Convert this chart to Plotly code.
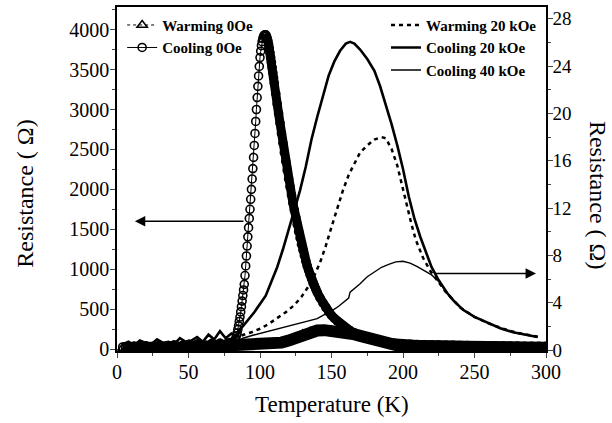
import plotly.graph_objects as go

# ---------------- data ----------------
# Cooling 0 Oe (left axis, Ohm): low-T noise, steep rise, decay
T_c0_low = [4, 6, 8, 10, 12, 14, 16, 18, 20, 22, 24, 26, 28, 30, 32, 34, 36, 38, 40, 42,
            44, 46, 48, 50, 52, 54, 56, 58, 60, 62, 64, 66, 68, 70, 72, 74, 76, 78, 80]
R_c0_low = [25, 10, 30, 15, 35, 20, 10, 30, 40, 15, 25, 35, 20, 45, 30, 15, 40, 25, 50, 30,
            20, 45, 35, 55, 25, 40, 60, 30, 50, 45, 35, 65, 40, 55, 70, 45, 60, 75, 85]
T_c0_rise = [82, 82.5, 83, 83.5, 84, 84.5, 85, 85.5, 86, 86.5, 87, 87.5, 88, 88.5, 89, 89.5,
             90, 90.5, 91, 91.5, 92, 92.5, 93, 93.5, 94, 94.5, 95, 95.5, 96, 96.5, 97, 97.5,
             98, 98.5, 99, 99.5, 100, 100.5, 101, 101.5, 102, 102.5, 103, 103.5, 104]
R_c0_rise = [80, 105, 130, 165, 200, 245, 290, 345, 400, 465, 530, 600, 670, 740, 810, 920,
             1040, 1165, 1290, 1405, 1520, 1635, 1750, 1875, 2000, 2130, 2260, 2400, 2550, 2700, 2850, 3000,
             3150, 3290, 3420, 3540, 3650, 3730, 3800, 3850, 3890, 3915, 3930, 3937, 3935]
T_c0_dec = [104.5, 105, 105.5, 106, 106.5, 107, 107.5, 108, 108.5, 109, 109.5, 110, 111, 112, 113,
            114, 115, 116, 117, 118, 119, 120, 121, 122, 123, 124, 125, 126, 127, 128, 129, 130,
            131, 132, 133, 134, 135, 136, 137, 138, 139, 140, 142, 144, 146, 148, 150, 152, 154,
            156, 158, 160, 163, 166, 170, 175, 180, 185, 190, 195, 200, 205, 210, 215, 220, 225,
            230, 235, 240, 245, 250, 255, 260, 265, 270, 275, 280, 285, 290, 295, 300]
R_c0_dec = [3920, 3895, 3860, 3815, 3765, 3710, 3650, 3590, 3525, 3460, 3395, 3330, 3200, 3070, 2950,
            2830, 2700, 2580, 2460, 2350, 2240, 2130, 2030, 1930, 1830, 1740, 1650, 1560, 1470, 1390, 1310, 1240,
            1170, 1100, 1040, 985, 930, 880, 830, 790, 750, 710, 640, 575, 520, 465, 420, 385, 350,
            320, 290, 262, 230, 200, 168, 135, 108, 88, 76, 68, 62, 58, 55, 52, 50, 48,
            46, 45, 43, 42, 41, 40, 39, 38, 37, 37, 36, 35, 35, 34, 34]

# Warming 0 Oe (left axis, Ohm)
T_w0 = [4, 10, 16, 22, 28, 34, 40, 46, 52, 58, 64, 70, 76, 82, 88, 94,
        100, 105, 110, 115, 120, 125, 130, 135, 140, 145, 150, 155, 160, 165, 170, 175, 180, 185, 190, 195, 200,
        210, 220, 230, 240, 250, 260, 270, 280, 290, 300]
R_w0 = [12, 18, 10, 15, 20, 12, 18, 14, 20, 16, 22, 18, 24, 26, 32, 38,
        44, 50, 62, 80, 105, 145, 185, 215, 232, 236, 232, 220, 205, 188, 165, 135, 105, 80, 62, 50, 42,
        33, 27, 23, 20, 18, 16, 15, 14, 13, 12]

# Warming 20 kOe (right axis, Ohm)
T_w20 = [4, 12, 20, 28, 36, 44, 52, 60, 68, 76, 84, 87, 90, 94, 100, 106, 112, 118, 124, 129,
         134, 138, 142, 146, 150, 154, 158, 162, 166, 170, 175, 180, 185, 188, 192, 196, 200, 203,
         206, 209, 214, 219, 224, 230, 240, 250, 260, 270, 280, 290, 295]
R_w20 = [0.4, 0.5, 0.4, 0.5, 0.5, 0.6, 0.5, 0.6, 0.7, 0.8, 1.1, 1.25, 1.35, 1.5, 1.8, 2.2, 2.7, 3.2, 3.8, 4.5,
         5.4, 6.3, 7.4, 8.8, 10.4, 12.0, 13.5, 14.8, 15.8, 16.7, 17.3, 17.8, 18.0, 17.9, 17.0, 15.6, 13.6, 12.0,
         10.6, 9.3, 7.8, 6.7, 5.9, 4.9, 3.6, 2.8, 2.25, 1.8, 1.45, 1.2, 1.1]

# Cooling 20 kOe (right axis, Ohm)
T_c20 = [4, 8, 12, 16, 20, 24, 28, 32, 36, 40, 44, 48, 52, 56, 60, 64, 68, 72, 76, 80, 84,
         86, 88, 92, 96, 100, 104, 108, 112, 116, 120, 124, 128, 132, 136, 140, 144, 148, 152, 156, 160,
         163, 166, 170, 175, 180, 184, 188, 192, 196, 200, 204, 208, 212, 216, 220, 225, 231, 236, 242, 250,
         259, 268, 277, 285, 294]
R_c20 = [0.5, 0.7, 0.4, 0.8, 0.6, 0.5, 0.9, 0.6, 0.7, 0.5, 1.0, 0.7, 0.8, 1.1, 0.7, 1.3, 0.9, 1.6, 1.0, 1.4, 1.2,
         1.8, 2.0, 2.6, 3.2, 3.9, 4.6, 5.8, 7.0, 8.5, 10.2, 11.8, 13.5, 15.5, 17.8, 19.7, 21.5, 23.2, 24.4, 25.3, 25.9,
         26.05, 25.9, 25.4, 24.6, 23.6, 22.3, 20.8, 19.1, 17.3, 15.3, 13.0, 11.1, 9.6, 8.3, 7.0, 5.9, 4.8, 4.1, 3.4, 2.8,
         2.3, 1.85, 1.5, 1.3, 1.1]

# Cooling 40 kOe (right axis, Ohm)
T_c40 = [4, 12, 20, 28, 36, 44, 52, 60, 68, 76, 82, 85, 88, 95, 100, 105, 110, 117, 125, 130,
         135, 140, 145, 150, 155, 160, 162, 163, 165, 170, 175, 180, 185, 190, 195, 200, 205, 210,
         215, 220, 225, 231, 236, 242, 250, 259, 268, 277, 285, 294]
R_c40 = [0.4, 0.5, 0.4, 0.5, 0.4, 0.5, 0.5, 0.6, 0.5, 0.6, 0.7, 0.8, 1.0, 1.25, 1.4, 1.55, 1.7, 1.95, 2.2, 2.35,
         2.5, 2.65, 3.0, 3.3, 3.7, 4.2, 4.4, 4.9, 5.1, 5.6, 6.2, 6.6, 7.0, 7.25, 7.45, 7.5, 7.35, 7.05,
         6.7, 6.35, 5.8, 4.8, 4.1, 3.4, 2.8, 2.3, 1.85, 1.5, 1.3, 1.1]

# axis ticks / labels
x_ticks = [0, 50, 100, 150, 200, 250, 300]
yl_ticks = [0, 500, 1000, 1500, 2000, 2500, 3000, 3500, 4000]
yr_ticks = [0, 4, 8, 12, 16, 20, 24, 28]

# ---------------- figure ----------------
FONT = "Liberation Serif"
T_c0 = T_c0_low + T_c0_rise + T_c0_dec
R_c0 = R_c0_low + R_c0_rise + R_c0_dec
R_c0_band = [r if (t <= 82 or t >= 104) else None for t, r in zip(T_c0, R_c0)]

fig = go.Figure()

# dense bands (the overlapping markers of the measured zero-field data)
fig.add_trace(go.Scatter(x=T_w0, y=R_w0, mode="lines", showlegend=False, hoverinfo="skip",
                         line=dict(color="black", width=12), yaxis="y"))
fig.add_trace(go.Scatter(x=T_c0, y=R_c0_band, mode="lines", showlegend=False, hoverinfo="skip",
                         connectgaps=False, line=dict(color="black", width=9), yaxis="y"))

fig.add_trace(go.Scatter(x=T_w0, y=R_w0, mode="lines+markers", name="Warming 0Oe",
                         legend="legend", legendgroup="a",
                         line=dict(color="black", width=1, dash="dot"),
                         marker=dict(symbol="triangle-up-open", size=9, color="black",
                                     line=dict(width=1.5, color="black")), yaxis="y"))
fig.add_trace(go.Scatter(x=T_c0, y=R_c0, mode="lines+markers", name="Cooling 0Oe",
                         legend="legend", legendgroup="b",
                         line=dict(color="black", width=1),
                         marker=dict(symbol="circle-open", size=8, color="black",
                                     line=dict(width=1.6, color="black")), yaxis="y"))

fig.add_trace(go.Scatter(x=T_w20, y=R_w20, mode="lines", name="Warming 20 kOe",
                         legend="legend2", legendgroup="c",
                         line=dict(color="black", width=2.5, dash="4px,4px"), yaxis="y2"))
fig.add_trace(go.Scatter(x=T_c20, y=R_c20, mode="lines", name="Cooling 20 kOe",
                         legend="legend2", legendgroup="d",
                         line=dict(color="black", width=2.6), yaxis="y2"))
fig.add_trace(go.Scatter(x=T_c40, y=R_c40, mode="lines", name="Cooling 40 kOe",
                         legend="legend2", legendgroup="e",
                         line=dict(color="black", width=1.4), yaxis="y2"))

tickfont = dict(family=FONT, size=20, color="black")
tickfont_r = dict(family=FONT, size=19, color="black")
legfont = dict(family=FONT, size=15, color="black", weight="bold")

fig.update_layout(
    width=612, height=423,
    margin=dict(l=117, r=66, t=5, b=72),
    paper_bgcolor="white", plot_bgcolor="white",
    font=dict(family=FONT, color="black"),
    xaxis=dict(range=[0, 300], tickvals=x_ticks, ticks="outside", ticklen=5, tickwidth=1.3,
               minor=dict(dtick=25, ticks="outside", ticklen=3, tickwidth=1.2),
               showline=True, linewidth=1.5, linecolor="black", mirror=True,
               showgrid=False, zeroline=False, tickfont=tickfont, ticklabelstandoff=-3),
    xaxis2=dict(range=[0, 300], overlaying="x", side="top", anchor="y", dtick=25,
                ticks="inside", ticklen=6, tickwidth=1.2, showticklabels=False,
                showline=False, showgrid=False, zeroline=False),
    yaxis=dict(range=[-25, 4284], tickvals=yl_ticks, ticks="outside", ticklen=5, tickwidth=1.3,
               minor=dict(dtick=250, ticks="outside", ticklen=3, tickwidth=1.2),
               showline=True, linewidth=1.5, linecolor="black",
               showgrid=False, zeroline=False, tickfont=tickfont, ticklabelstandoff=-3),
    yaxis2=dict(range=[-0.08, 29.0], tickvals=yr_ticks, overlaying="y", side="right",
                ticks="outside", ticklen=5, tickwidth=1.3,
                minor=dict(dtick=2, ticks="outside", ticklen=3, tickwidth=1.2),
                showline=True, linewidth=1.5, linecolor="black",
                showgrid=False, zeroline=False, tickfont=tickfont_r, ticklabelstandoff=-4),
    legend=dict(x=0.012, y=0.995, xanchor="left", yanchor="top", bgcolor="rgba(0,0,0,0)",
                font=legfont, traceorder="grouped", tracegroupgap=0, itemwidth=30),
    legend2=dict(x=0.627, y=0.995, xanchor="left", yanchor="top", bgcolor="rgba(0,0,0,0)",
                 font=legfont, traceorder="grouped", tracegroupgap=0, itemwidth=30),
    showlegend=True,
)

# axis titles
fig.add_annotation(text="Temperature (K)", xref="paper", yref="paper", x=0.5, y=-0.156,
                   showarrow=False, font=dict(family=FONT, size=23, color="black"),
                   xanchor="center", yanchor="middle")
fig.add_annotation(text="Resistance ( \u03a9)", xref="paper", yref="paper", x=-0.2145, y=0.457,
                   textangle=-90, showarrow=False, font=dict(family=FONT, size=24, color="black"),
                   xanchor="center", yanchor="middle")
fig.add_annotation(text="Resistance ( \u03a9)", xref="paper", yref="paper", x=1.121, y=0.454,
                   textangle=90, showarrow=False, font=dict(family=FONT, size=24, color="black"),
                   xanchor="center", yanchor="middle")

# arrows indicating which axis each set belongs to
fig.add_annotation(x=12.5, y=1600, ax=89.5, ay=1600, xref="x", yref="y", axref="x", ayref="y",
                   text="", showarrow=True, arrowhead=2, arrowsize=1.3, arrowwidth=1.6,
                   arrowcolor="black")
fig.add_annotation(x=293, y=6.47, ax=221.7, ay=6.47, xref="x", yref="y2", axref="x", ayref="y2",
                   text="", showarrow=True, arrowhead=2, arrowsize=1.3, arrowwidth=1.6,
                   arrowcolor="black")

fig.write_html("out.html")
